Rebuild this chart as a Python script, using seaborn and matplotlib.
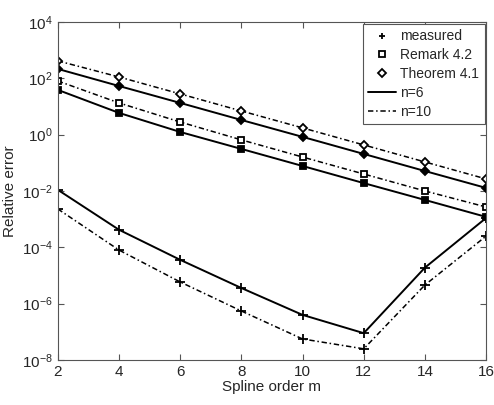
import numpy as np
import pandas as pd
import seaborn as sns
import matplotlib.pyplot as plt
from matplotlib.lines import Line2D
from matplotlib.ticker import FixedLocator, LogFormatterMathtext

# spline orders
m = [2, 4, 6, 8, 10, 12, 14, 16]

# relative errors
measured_n6 = [1.1e-2, 4.2e-4, 3.6e-5, 3.6e-6, 4.0e-7, 9.0e-8, 1.9e-5, 1.1e-3]
measured_n10 = [2.3e-3, 8.0e-5, 5.9e-6, 5.5e-7, 5.6e-8, 2.5e-8, 4.6e-6, 2.5e-4]
remark_n6 = [38.6, 5.9, 1.24, 0.31, 0.077, 0.019, 0.0048, 0.0012]
remark_n10 = [80, 13.3, 2.8, 0.65, 0.16, 0.040, 0.010, 0.0027]
theorem_n6 = [214, 53, 13.3, 3.3, 0.83, 0.206, 0.051, 0.0128]
theorem_n10 = [413, 111, 27.8, 6.9, 1.73, 0.43, 0.107, 0.0267]

series = [
    ('measured', 'n=6', measured_n6),
    ('measured', 'n=10', measured_n10),
    ('Remark 4.2', 'n=6', remark_n6),
    ('Remark 4.2', 'n=10', remark_n10),
    ('Theorem 4.1', 'n=6', theorem_n6),
    ('Theorem 4.1', 'n=10', theorem_n10),
]

rows = []
for kind, n, vals in series:
    for x, v in zip(m, vals):
        rows.append({'m': x, 'err': v, 'kind': kind, 'n': n})
df = pd.DataFrame(rows)

sns.set_style('ticks')
plt.rcParams['font.family'] = ['Liberation Sans', 'DejaVu Sans']
plt.rcParams['mathtext.fontset'] = 'custom'
plt.rcParams['mathtext.rm'] = 'Liberation Sans'

markers = {'measured': '+', 'Remark 4.2': 's', 'Theorem 4.1': 'D'}
msizes = {'measured': 7, 'Remark 4.2': 5, 'Theorem 4.1': 4.5}
dashdot = (0, (3.5, 1.8, 1, 1.8))
styles = {'n=6': '-', 'n=10': dashdot}

fig = plt.figure(figsize=(4.94, 4.05), dpi=100)
ax = fig.add_axes([0.117, 0.111, 0.867, 0.835])

for (kind, n), sub in df.groupby(['kind', 'n']):
    face = 'black' if n == 'n=6' else 'white'
    sns.lineplot(data=sub, x='m', y='err', ax=ax, color='black',
                 linestyle=styles[n], linewidth=1.4 if n == 'n=6' else 1.1,
                 marker=markers[kind], markersize=msizes[kind],
                 markerfacecolor=face, markeredgecolor='black',
                 markeredgewidth=1.3, legend=False)

ax.set_yscale('log')
ax.set_xlim(2, 16)
ax.set_ylim(1e-8, 1e4)
ax.set_xticks(range(2, 17, 2))
ax.yaxis.set_major_locator(FixedLocator([10.0**k for k in range(-8, 5, 2)]))
ax.yaxis.set_major_formatter(LogFormatterMathtext())
ax.yaxis.set_minor_locator(FixedLocator([]))
ax.tick_params(direction='in', top=True, right=True, labelsize=11, length=4,
               color='#555555')
for s in ax.spines.values():
    s.set_color('#555555')
ax.set_xlabel('Spline order m', fontsize=11, labelpad=1)
ax.set_ylabel('Relative error', fontsize=11)

handles = [
    Line2D([], [], color='black', linestyle='none', marker='+', markersize=5, markeredgewidth=1.3),
    Line2D([], [], color='black', linestyle='none', marker='s', markersize=4,
           markerfacecolor='white', markeredgewidth=1.3),
    Line2D([], [], color='black', linestyle='none', marker='D', markersize=4,
           markerfacecolor='white', markeredgewidth=1.3),
    Line2D([], [], color='black', linestyle='-', linewidth=1.4),
    Line2D([], [], color='black', linestyle=dashdot, linewidth=1.1),
]
labels = ['measured', 'Remark 4.2', 'Theorem 4.1', 'n=6', 'n=10']
leg = ax.legend(handles, labels, loc='upper right', fontsize=10, fancybox=False,
                framealpha=1, edgecolor='#555555', handlelength=2.0,
                handletextpad=0.3, labelspacing=0.35, borderpad=0.4,
                borderaxespad=0, bbox_to_anchor=(0.997, 0.994))
leg.get_frame().set_linewidth(0.8)

fig.savefig('out.png', dpi=100)
